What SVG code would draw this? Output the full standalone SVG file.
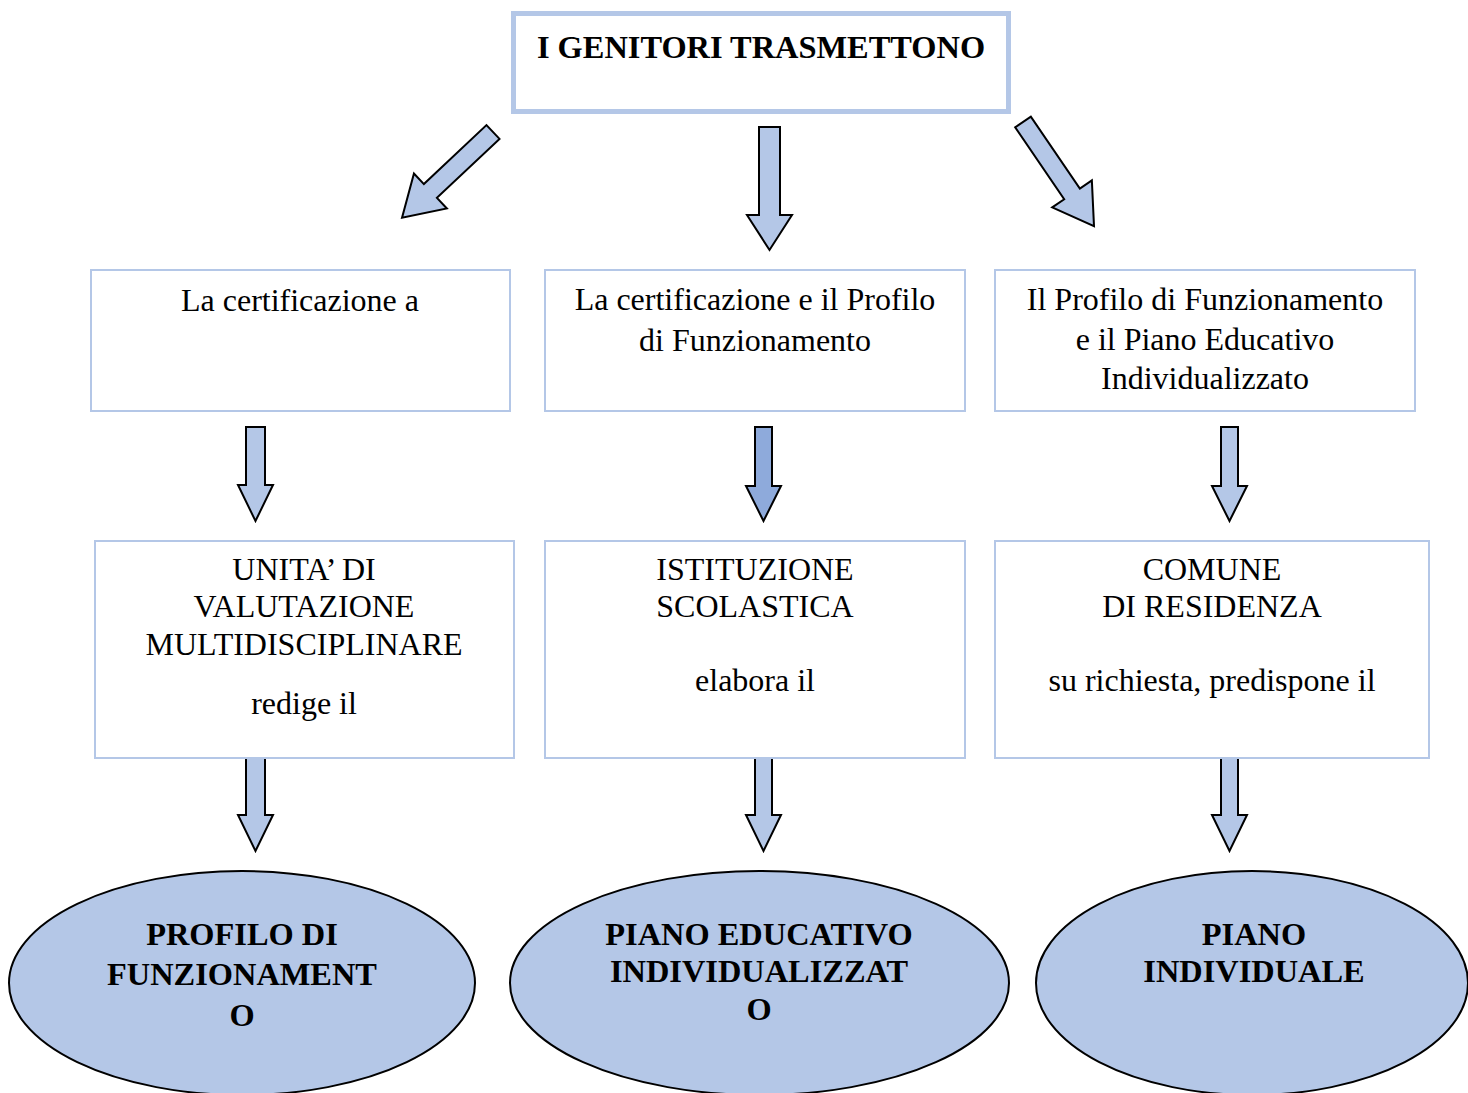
<svg xmlns="http://www.w3.org/2000/svg" width="1468" height="1093" viewBox="0 0 1468 1093">
<style>
.box{fill:#fff;stroke:#b4c7e7;stroke-width:2}
.t{font-family:"Liberation Serif","Times New Roman",serif;font-size:32px;fill:#000;text-anchor:middle}
.b{font-weight:bold;font-size:32.4px}
.arr{fill:#b4c7e7;stroke:#000;stroke-width:2;stroke-linejoin:miter}
.dark{fill:#8eaadb}
.ell{fill:#b4c7e7;stroke:#000;stroke-width:2}
</style>
<rect width="1468" height="1093" fill="#fff"/>
<g id="top">
<rect x="513.5" y="13.5" width="495" height="98" fill="#fff" stroke="#b4c7e7" stroke-width="5"/>
<text class="t b" x="761" y="58">I GENITORI TRASMETTONO</text>
</g>
<g id="connectors">
<path class="arr" transform="translate(493,132) rotate(46.7)" d="M-9.5,0 H9.5 V86 H24 L0,125 L-24,86 H-9.5 Z"/>
<path class="arr" d="M759,127 H780 V215 H792 L769.5,250 L747,215 H759 Z"/>
<path class="arr" transform="translate(1023,122) rotate(-34.3)" d="M-9.5,0 H9.5 V87 H24 L0,126 L-24,87 H-9.5 Z"/>
<path class="arr" d="M246,427 H265 V485 H273 L255.5,521 L238,485 H246 Z"/>
<path class="arr dark" d="M755,427 H772 V486 H781 L763.5,521 L746,486 H755 Z"/>
<path class="arr" d="M1221,427 H1238 V486 H1247 L1229.5,521 L1212,486 H1221 Z"/>
<path class="arr" d="M246,758 H265 V815 H273 L255.5,851 L238,815 H246 Z"/>
<path class="arr" d="M755,758 H772 V815 H781 L763.5,851 L746,815 H755 Z"/>
<path class="arr" d="M1221,758 H1238 V815 H1247 L1229.5,851 L1212,815 H1221 Z"/>
</g>
<g id="cert">
<rect class="box" x="91" y="270" width="419" height="141"/>
<text class="t" x="300" y="311">La certificazione a</text>
</g>
<g id="cert-profilo">
<rect class="box" x="545" y="270" width="420" height="141"/>
<text class="t" x="755" y="310">La certificazione e il Profilo</text>
<text class="t" x="755" y="351">di Funzionamento</text>
</g>
<g id="profilo-piano">
<rect class="box" x="995" y="270" width="420" height="141"/>
<text class="t" x="1205" y="310">Il Profilo di Funzionamento</text>
<text class="t" x="1205" y="350">e il Piano Educativo</text>
<text class="t" x="1205" y="389">Individualizzato</text>
</g>
<g id="umv">
<rect class="box" x="95" y="541" width="419" height="217"/>
<text class="t" x="304" y="580">UNITA’ DI</text>
<text class="t" x="304" y="617">VALUTAZIONE</text>
<text class="t" x="304" y="655">MULTIDISCIPLINARE</text>
<text class="t" x="304" y="714">redige il</text>
</g>
<g id="scuola">
<rect class="box" x="545" y="541" width="420" height="217"/>
<text class="t" x="755" y="580">ISTITUZIONE</text>
<text class="t" x="755" y="617">SCOLASTICA</text>
<text class="t" x="755" y="691">elabora il</text>
</g>
<g id="comune">
<rect class="box" x="995" y="541" width="434" height="217"/>
<text class="t" x="1212" y="580">COMUNE</text>
<text class="t" x="1212" y="617">DI RESIDENZA</text>
<text class="t" x="1212" y="691">su richiesta, predispone il</text>
</g>
<g id="pf">
<ellipse class="ell" cx="242" cy="983" rx="233" ry="112"/>
<text class="t b" x="242" y="945">PROFILO DI</text>
<text class="t b" x="242" y="985">FUNZIONAMENT</text>
<text class="t b" x="242" y="1026">O</text>
</g>
<g id="pei">
<ellipse class="ell" cx="759.5" cy="983" rx="249.5" ry="112"/>
<text class="t b" x="759" y="945">PIANO EDUCATIVO</text>
<text class="t b" x="759" y="982">INDIVIDUALIZZAT</text>
<text class="t b" x="759" y="1020">O</text>
</g>
<g id="pi">
<ellipse class="ell" cx="1252" cy="983" rx="216" ry="112"/>
<text class="t b" x="1254" y="945">PIANO</text>
<text class="t b" x="1254" y="982">INDIVIDUALE</text>
</g>
</svg>
